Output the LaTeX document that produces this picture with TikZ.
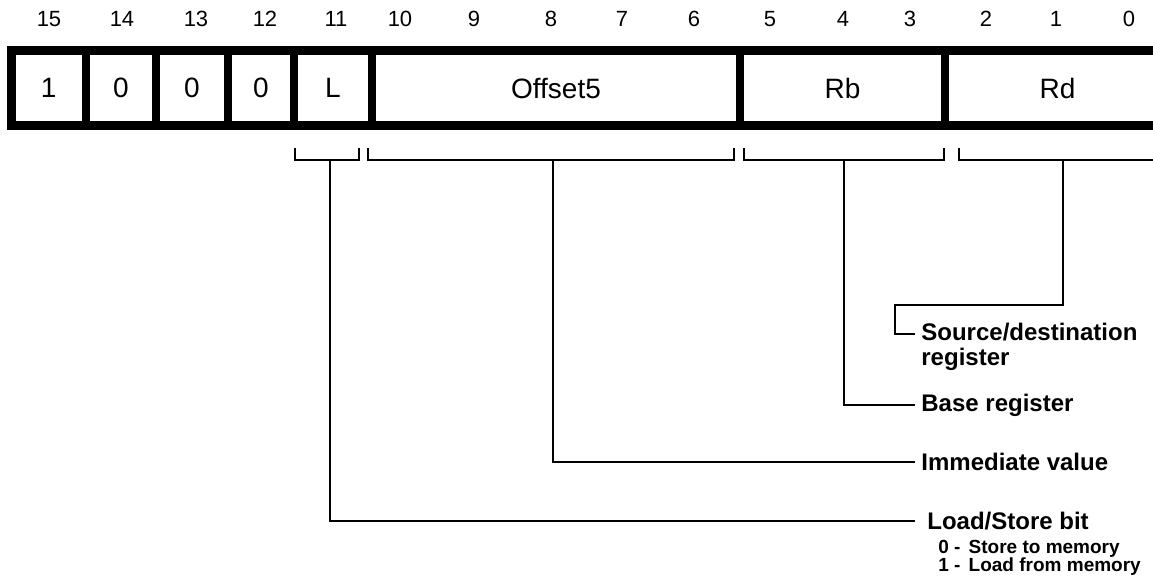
\documentclass[tikz,border=0pt]{standalone}
\usepackage{fontspec}
\setmainfont{Liberation Sans}
\usetikzlibrary{positioning}

\begin{document}
\begin{tikzpicture}[
        % one unit = one pixel of the 1153x575 frame, y grows downwards
        x=0.5pt, y=-0.5pt,
        field/.style={rectangle, draw, line width=4.25pt, minimum height=37.5pt, inner sep=0pt, font=\fontsize{14}{16}\selectfont},
        bitnum/.style={font=\fontsize{11}{13}\selectfont},
        brace/.style={line width=1pt},
        lead/.style={line width=1pt},
        desc/.style={anchor=west, inner sep=3pt, align=left, font=\bfseries\fontsize{12}{12.5}\selectfont},
        note/.style={inner sep=0pt, align=left, font=\bfseries\fontsize{9.5}{9}\selectfont}
    ]
    \useasboundingbox (0,0) rectangle (1153,575);
    \clip (0,0) rectangle (1153,575);

    % Bit numbers
    \foreach \b/\x in {15/49,14/122,13/196,12/265,11/336,10/400,9/474,8/551,7/622,6/694,5/770,4/843,3/910,2/986,1/1056,0/1129}
        \node[bitnum] (b\b) at (\x,19) {\b};

    % Instruction fields
    \node[field, minimum width=37.25pt] (op15) at (48.75,88) {1};
    \node[field, minimum width=35pt] (op14) at (121,88) {0};
    \node[field, minimum width=36pt] (op13) at (192,88) {0};
    \node[field, minimum width=33pt] (op12) at (261,88) {0};
    \node[field, minimum width=39pt] (lflag) at (333,88) {L};
    \node[field, minimum width=184pt] (offset) at (556,88) {Offset5};
    \node[field, minimum width=102.5pt] (rb) at (842.5,88) {Rb};
    \node[field, minimum width=112.5pt] (rd) at (1057.5,88) {Rd};

    % Brackets under the fields
    \foreach \l/\r in {295/359, 368/734, 744/944, 959/1170}
        \draw[brace] (\l,148) |- (\r,160) -- (\r,148);
    \coordinate (lstop) at (330,160);
    \coordinate (offtop) at (553,160);
    \coordinate (rbtop) at (844,160);
    \coordinate (rdtop) at (1063,160);
    \coordinate (rdbend) at (895,305);
    \coordinate (sdend) at (915,334);

    % Descriptions
    \node[desc, anchor=north west] (srcdst) at (915,317) {Source/destination\\register};
    \node[desc] (basereg) at (915,405) {Base register};
    \node[desc] (immval) at (915,462) {Immediate value};
    \node[desc, inner xsep=6pt] (lsbit) at (915,521) {Load/Store bit};
    \node[note, below right=1.5pt and 11.5pt of lsbit.south west] (lsnote)
        {0 -\hspace{0.15em} Store to memory\\1 -\hspace{0.15em} Load from memory};

    % Leader lines
    \draw[lead] (rdtop) |- (rdbend) |- (sdend);
    \draw[lead] (rbtop) |- (basereg.west);
    \draw[lead] (offtop) |- (immval.west);
    \draw[lead] (lstop) |- (lsbit.west);

\end{tikzpicture}
\end{document}
